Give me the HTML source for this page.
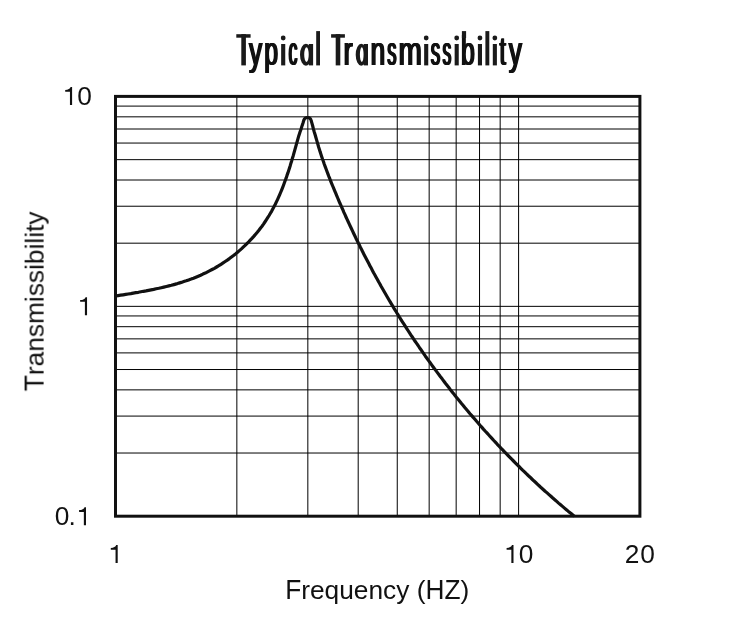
<!DOCTYPE html>
<html><head><meta charset="utf-8"><style>
html,body{margin:0;padding:0;background:#fff;}
svg{display:block;will-change:transform;}
text{font-family:"Liberation Sans",sans-serif;fill:#111;font-kerning:none;}
</style></head><body>
<svg width="732" height="623" viewBox="0 0 732 623">
<rect width="732" height="623" fill="#fff"/>
<g stroke="#000" stroke-width="1.0" fill="none">
<line x1="236.85" y1="96.4" x2="236.85" y2="516.2"/>
<line x1="307.83" y1="96.4" x2="307.83" y2="516.2"/>
<line x1="358.19" y1="96.4" x2="358.19" y2="516.2"/>
<line x1="397.25" y1="96.4" x2="397.25" y2="516.2"/>
<line x1="429.17" y1="96.4" x2="429.17" y2="516.2"/>
<line x1="456.16" y1="96.4" x2="456.16" y2="516.2"/>
<line x1="479.54" y1="96.4" x2="479.54" y2="516.2"/>
<line x1="500.16" y1="96.4" x2="500.16" y2="516.2"/>
<line x1="518.60" y1="96.4" x2="518.60" y2="516.2"/>
<line x1="115.5" y1="453.03" x2="639.9" y2="453.03"/>
<line x1="115.5" y1="416.08" x2="639.9" y2="416.08"/>
<line x1="115.5" y1="389.86" x2="639.9" y2="389.86"/>
<line x1="115.5" y1="369.52" x2="639.9" y2="369.52"/>
<line x1="115.5" y1="352.90" x2="639.9" y2="352.90"/>
<line x1="115.5" y1="338.86" x2="639.9" y2="338.86"/>
<line x1="115.5" y1="326.69" x2="639.9" y2="326.69"/>
<line x1="115.5" y1="315.95" x2="639.9" y2="315.95"/>
<line x1="115.5" y1="243.18" x2="639.9" y2="243.18"/>
<line x1="115.5" y1="206.23" x2="639.9" y2="206.23"/>
<line x1="115.5" y1="180.01" x2="639.9" y2="180.01"/>
<line x1="115.5" y1="159.67" x2="639.9" y2="159.67"/>
<line x1="115.5" y1="143.05" x2="639.9" y2="143.05"/>
<line x1="115.5" y1="129.01" x2="639.9" y2="129.01"/>
<line x1="115.5" y1="116.84" x2="639.9" y2="116.84"/>
<line x1="115.5" y1="106.10" x2="639.9" y2="106.10"/>
<line x1="115.5" y1="306.35" x2="639.9" y2="306.35"/>
</g>
<path d="M115.6,296.0 118.1,295.6 120.6,295.2 123.2,294.8 125.7,294.4 128.2,294.0 130.8,293.6 133.3,293.1 135.8,292.7 138.4,292.3 140.9,291.8 143.5,291.3 146.0,290.9 148.6,290.4 151.1,289.9 153.7,289.4 156.2,288.8 158.8,288.3 161.3,287.7 163.8,287.1 166.4,286.5 168.9,285.9 171.4,285.3 173.9,284.6 176.4,283.9 178.9,283.1 181.3,282.4 183.8,281.6 186.2,280.8 188.7,279.9 191.1,279.1 193.5,278.2 195.9,277.2 198.3,276.2 200.6,275.2 202.9,274.1 205.3,273.1 207.6,271.9 209.9,270.7 212.1,269.5 214.4,268.3 216.6,267.0 218.8,265.7 221.0,264.3 223.1,262.9 225.2,261.5 227.3,260.1 229.4,258.6 231.5,257.0 233.5,255.5 235.5,253.9 237.5,252.2 239.4,250.6 241.4,248.9 243.2,247.2 245.1,245.4 246.9,243.6 248.7,241.8 250.5,239.9 252.2,238.1 254.0,236.1 255.6,234.2 257.3,232.2 258.9,230.2 260.4,228.2 262.0,226.2 263.5,224.1 264.9,222.0 266.3,219.9 267.7,217.7 269.1,215.5 270.4,213.3 271.7,211.1 272.9,208.8 274.1,206.5 275.3,204.2 276.4,201.9 277.5,199.6 278.6,197.2 279.6,194.9 280.6,192.5 281.6,190.1 282.6,187.6 283.5,185.2 284.4,182.8 285.3,180.3 286.2,177.9 287.0,175.4 287.9,172.9 288.7,170.4 289.5,167.9 290.3,165.4 291.0,162.9 291.8,160.4 292.5,157.9 293.3,155.4 294.0,152.9 294.7,150.4 295.4,147.9 296.1,145.4 296.8,142.9 297.5,140.4 298.2,137.9 298.9,135.4 300.1,131.8 301.1,128.9 302.0,125.9 303.0,123.0 303.9,120.0 304.1,119.7 304.3,119.3 304.5,118.9 304.8,118.6 305.1,118.3 305.4,118.1 305.8,117.9 306.2,117.7 306.6,117.6 307.0,117.5 307.4,117.5 307.8,117.5 308.2,117.5 308.6,117.6 309.0,117.8 309.4,118.0 309.7,118.2 310.1,118.5 310.4,118.8 310.6,119.1 310.8,119.5 311.0,119.8 311.1,120.2 311.9,123.1 312.7,126.0 313.4,128.9 314.2,131.8 315.2,135.0 315.9,137.5 316.6,139.9 317.3,142.4 318.0,144.8 318.7,147.2 319.5,149.7 320.2,152.1 321.0,154.5 321.8,156.9 322.6,159.3 323.5,161.8 324.3,164.2 325.2,166.6 326.1,169.0 327.0,171.5 327.9,173.9 328.8,176.3 329.8,178.7 330.7,181.1 331.7,183.6 332.7,186.0 333.7,188.4 334.7,190.8 335.7,193.2 336.7,195.6 337.7,198.0 338.7,200.4 339.7,202.8 340.8,205.1 341.8,207.5 342.9,209.9 343.9,212.3 345.0,214.7 346.0,217.0 347.1,219.4 348.2,221.7 349.3,224.1 350.4,226.5 351.5,228.8 352.6,231.1 353.7,233.5 354.8,235.8 355.9,238.2 357.1,240.5 358.2,242.8 359.4,245.1 360.5,247.5 361.7,249.8 362.8,252.1 364.0,254.4 365.2,256.7 366.4,259.0 367.6,261.3 368.8,263.6 370.0,265.9 371.2,268.1 372.4,270.4 373.6,272.7 374.9,275.0 376.1,277.2 377.4,279.5 378.6,281.8 379.9,284.0 381.1,286.3 382.4,288.5 383.7,290.8 385.0,293.0 386.3,295.2 387.6,297.5 388.9,299.7 390.2,301.9 391.5,304.1 392.9,306.4 394.2,308.6 395.6,310.8 396.9,313.0 398.3,315.2 399.6,317.4 401.0,319.6 402.4,321.8 403.8,323.9 405.2,326.1 406.6,328.3 408.0,330.5 409.4,332.6 410.8,334.8 412.3,337.0 413.7,339.1 415.1,341.3 416.6,343.4 418.1,345.5 419.5,347.7 421.0,349.8 422.5,351.9 424.0,354.1 425.4,356.2 426.9,358.3 428.4,360.4 430.0,362.5 431.5,364.6 433.0,366.7 434.5,368.8 436.1,370.9 437.6,372.9 439.2,375.0 440.7,377.1 442.3,379.1 443.9,381.2 445.4,383.3 447.0,385.3 448.6,387.3 450.2,389.4 451.8,391.4 453.4,393.4 455.0,395.5 456.6,397.5 458.3,399.5 459.9,401.5 461.5,403.5 463.2,405.5 464.8,407.5 466.5,409.5 468.2,411.5 469.8,413.5 471.5,415.4 473.2,417.4 474.9,419.3 476.6,421.3 478.3,423.2 480.0,425.2 481.7,427.1 483.4,429.1 485.1,431.0 486.9,432.9 488.6,434.8 490.3,436.7 492.1,438.6 493.8,440.5 495.6,442.4 497.3,444.3 499.1,446.2 500.9,448.1 502.7,449.9 504.5,451.8 506.3,453.7 508.1,455.5 509.9,457.3 511.7,459.2 513.5,461.0 515.3,462.8 517.1,464.7 519.0,466.5 520.8,468.3 522.6,470.1 524.5,471.9 526.3,473.7 528.2,475.5 530.1,477.2 531.9,479.0 533.8,480.8 535.7,482.5 537.6,484.3 539.4,486.0 541.3,487.8 543.2,489.5 545.1,491.2 547.1,492.9 549.0,494.6 550.9,496.3 552.8,498.0 554.8,499.7 556.7,501.4 558.6,503.1 560.6,504.8 562.5,506.4 564.5,508.1 566.4,509.7 568.4,511.4 570.4,513.0 572.4,514.6 574.3,516.3" fill="none" stroke="#111" stroke-width="3.2" stroke-linejoin="round"/>
<rect x="115.5" y="96.4" width="524.4" height="419.8" fill="none" stroke="#111" stroke-width="3"/>
<g font-size="40.5" font-weight="normal" fill="#1a1a1a">
<text transform="translate(248.24,65.4) scale(0.6427,1)">y</text>
<text transform="translate(248.80,65.4) scale(0.6427,1)">y</text>
<text transform="translate(249.37,65.4) scale(0.6427,1)">y</text>
<text transform="translate(249.94,65.4) scale(0.6427,1)">y</text>
<text transform="translate(263.52,65.4) scale(0.6040,1)">p</text>
<text transform="translate(264.09,65.4) scale(0.6040,1)">p</text>
<text transform="translate(264.66,65.4) scale(0.6040,1)">p</text>
<text transform="translate(265.22,65.4) scale(0.6040,1)">p</text>
<text transform="translate(287.86,65.4) scale(0.4295,1)">c</text>
<text transform="translate(288.43,65.4) scale(0.4295,1)">c</text>
<text transform="translate(288.99,65.4) scale(0.4295,1)">c</text>
<text transform="translate(289.56,65.4) scale(0.4295,1)">c</text>
<text transform="translate(342.82,65.4) scale(0.6617,1)">r</text>
<text transform="translate(343.39,65.4) scale(0.6617,1)">r</text>
<text transform="translate(343.95,65.4) scale(0.6617,1)">r</text>
<text transform="translate(344.52,65.4) scale(0.6617,1)">r</text>
<text transform="translate(369.76,65.4) scale(0.6452,1)">n</text>
<text transform="translate(370.33,65.4) scale(0.6452,1)">n</text>
<text transform="translate(370.90,65.4) scale(0.6452,1)">n</text>
<text transform="translate(371.46,65.4) scale(0.6452,1)">n</text>
<text transform="translate(386.50,65.4) scale(0.4474,1)">s</text>
<text transform="translate(387.06,65.4) scale(0.4474,1)">s</text>
<text transform="translate(387.63,65.4) scale(0.4474,1)">s</text>
<text transform="translate(388.20,65.4) scale(0.4474,1)">s</text>
<text transform="translate(397.75,65.4) scale(0.6872,1)">m</text>
<text transform="translate(398.32,65.4) scale(0.6872,1)">m</text>
<text transform="translate(398.89,65.4) scale(0.6872,1)">m</text>
<text transform="translate(399.45,65.4) scale(0.6872,1)">m</text>
<text transform="translate(429.98,65.4) scale(0.4587,1)">s</text>
<text transform="translate(430.55,65.4) scale(0.4587,1)">s</text>
<text transform="translate(431.12,65.4) scale(0.4587,1)">s</text>
<text transform="translate(431.68,65.4) scale(0.4587,1)">s</text>
<text transform="translate(441.82,65.4) scale(0.4247,1)">s</text>
<text transform="translate(442.39,65.4) scale(0.4247,1)">s</text>
<text transform="translate(442.95,65.4) scale(0.4247,1)">s</text>
<text transform="translate(443.52,65.4) scale(0.4247,1)">s</text>
<text transform="translate(460.32,65.4) scale(0.6040,1)">b</text>
<text transform="translate(460.89,65.4) scale(0.6040,1)">b</text>
<text transform="translate(461.46,65.4) scale(0.6040,1)">b</text>
<text transform="translate(462.02,65.4) scale(0.6040,1)">b</text>
<text transform="translate(498.86,65.4) scale(0.5511,1)">t</text>
<text transform="translate(499.43,65.4) scale(0.5511,1)">t</text>
<text transform="translate(500.00,65.4) scale(0.5511,1)">t</text>
<text transform="translate(500.56,65.4) scale(0.5511,1)">t</text>
<text transform="translate(508.04,65.4) scale(0.6427,1)">y</text>
<text transform="translate(508.60,65.4) scale(0.6427,1)">y</text>
<text transform="translate(509.17,65.4) scale(0.6427,1)">y</text>
<text transform="translate(509.74,65.4) scale(0.6427,1)">y</text>
<rect x="236.30" y="34.20" width="14.30" height="3.50"/>
<rect x="241.30" y="34.20" width="4.60" height="31.20"/>
<rect x="331.10" y="34.20" width="13.80" height="3.50"/>
<rect x="335.70" y="34.20" width="4.60" height="31.20"/>
<rect x="316.20" y="31.10" width="3.80" height="34.30"/>
<rect x="485.40" y="31.10" width="3.90" height="34.30"/>
<rect x="281.15" y="44.00" width="4.10" height="21.40"/>
<circle cx="283.20" cy="38.0" r="2.4"/>
<rect x="424.15" y="44.00" width="4.10" height="21.40"/>
<circle cx="426.20" cy="38.0" r="2.4"/>
<rect x="454.65" y="44.00" width="4.10" height="21.40"/>
<circle cx="456.70" cy="38.0" r="2.4"/>
<rect x="477.90" y="44.00" width="4.10" height="21.40"/>
<circle cx="479.95" cy="38.0" r="2.4"/>
<rect x="492.80" y="44.00" width="4.10" height="21.40"/>
<circle cx="494.85" cy="38.0" r="2.4"/>
<path fill-rule="evenodd" d="M300.00,54.75 a5.95,10.95 0 1,0 11.90,0 a5.95,10.95 0 1,0 -11.90,0 Z M304.20,54.60 a2.30,7.30 0 1,0 4.60,0 a2.30,7.30 0 1,0 -4.60,0 Z"/>
<rect x="308.90" y="44.00" width="4.20" height="21.40"/>
<path fill-rule="evenodd" d="M355.70,54.75 a5.55,10.95 0 1,0 11.10,0 a5.55,10.95 0 1,0 -11.10,0 Z M359.90,54.60 a1.90,7.30 0 1,0 3.80,0 a1.90,7.30 0 1,0 -3.80,0 Z"/>
<rect x="363.80" y="44.00" width="4.20" height="21.40"/>
<rect x="461.90" y="31.10" width="4.20" height="6.90"/>
</g>
<g font-size="26.3" fill="#111" opacity="0.999">
<path d="M72.10,105.00 V87.10 H70.60 C70.10,89.00 68.10,89.90 65.20,89.90 V91.70 H69.95 V105.00 Z"/>
<text x="77.17" y="105.0">0</text>
<path d="M87.05,315.15 V297.25 H85.55 C85.05,299.15 83.05,300.05 80.15,300.05 V301.85 H84.90 V315.15 Z"/>
<text x="54.77" y="525.2">0</text>
<text x="68.50" y="525.2">.</text>
<path d="M86.00,525.20 V507.30 H84.50 C84.00,509.20 82.00,510.10 79.10,510.10 V511.90 H83.85 V525.20 Z"/>
<path d="M117.70,563.00 V545.10 H116.20 C115.70,547.00 113.70,547.90 110.80,547.90 V549.70 H115.55 V563.00 Z"/>
<path d="M513.50,563.00 V545.10 H512.00 C511.50,547.00 509.50,547.90 506.60,547.90 V549.70 H511.35 V563.00 Z"/>
<text x="518.67" y="563.0">0</text>
<text x="624.78" y="562.8">2</text>
<text x="640.17" y="562.8">0</text>
<text transform="translate(285.14,599.0) scale(1,1.045)">F</text>
<text x="301.21" y="599.0">requency (</text>
<text transform="translate(425.46,599.0) scale(1,1.045)">HZ</text>
<text x="460.52" y="599.0">)</text>
<g transform="translate(43.6,391.19) rotate(-90)"><text transform="scale(1,1.045)">T</text><text x="16.07" y="0">ransmissibility</text></g>
</g>
</svg>
</body></html>
